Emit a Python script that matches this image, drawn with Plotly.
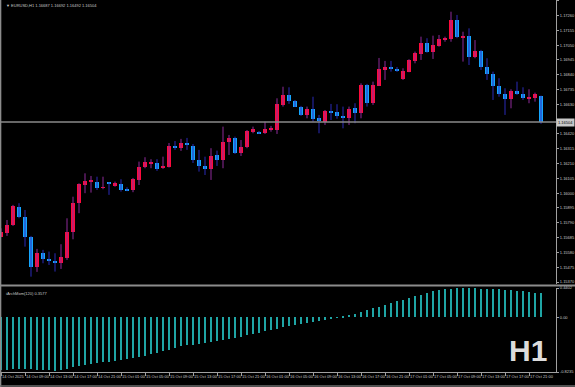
import plotly.graph_objects as go

# ---- data (EURUSD H1, 14 Oct 05:00 .. 17 Oct 23:00) ----
opens = [1.15692, 1.15720, 1.15773, 1.15905, 1.15832, 1.15688, 1.15479, 1.15576, 1.15534, 1.15520,
         1.15508, 1.15539, 1.15725, 1.15933, 1.16061, 1.16085, 1.16082, 1.16039, 1.16073, 1.16053,
         1.16066, 1.16023, 1.16023, 1.16094, 1.16184, 1.16214, 1.16212, 1.16177, 1.16188, 1.16335,
         1.16321, 1.16353, 1.16335, 1.16236, 1.16193, 1.16170, 1.16269, 1.16236, 1.16363, 1.16390,
         1.16283, 1.16326, 1.16436, 1.16427, 1.16425, 1.16452, 1.16448, 1.16626, 1.16697, 1.16654,
         1.16614, 1.16555, 1.16595, 1.16531, 1.16507, 1.16580, 1.16578, 1.16548, 1.16536, 1.16602,
         1.16567, 1.16765, 1.16638, 1.16762, 1.16879, 1.16891, 1.16883, 1.16810, 1.16862, 1.16938,
         1.16985, 1.17067, 1.17004, 1.17046, 1.17091, 1.17094, 1.17228, 1.17106, 1.17115, 1.16968,
         1.17009, 1.16893, 1.16845, 1.16760, 1.16701, 1.16666, 1.16727, 1.16704, 1.16672, 1.16673,
         1.16687]
highs = [1.15751, 1.15810, 1.15917, 1.15929, 1.15881, 1.15697, 1.15605, 1.15598, 1.15586, 1.15574,
         1.15638, 1.15822, 1.15975, 1.16070, 1.16141, 1.16122, 1.16117, 1.16117, 1.16078, 1.16082,
         1.16099, 1.16042, 1.16108, 1.16224, 1.16255, 1.16241, 1.16241, 1.16259, 1.16356, 1.16370,
         1.16385, 1.16392, 1.16349, 1.16307, 1.16259, 1.16319, 1.16302, 1.16472, 1.16413, 1.16401,
         1.16377, 1.16448, 1.16472, 1.16441, 1.16507, 1.16477, 1.16673, 1.16755, 1.16751, 1.16661,
         1.16619, 1.16614, 1.16684, 1.16555, 1.16590, 1.16633, 1.16631, 1.16614, 1.16614, 1.16638,
         1.16779, 1.16775, 1.16791, 1.16959, 1.16938, 1.16938, 1.16895, 1.16886, 1.16950, 1.17004,
         1.17110, 1.17099, 1.17117, 1.17122, 1.17110, 1.17287, 1.17264, 1.17145, 1.17169, 1.17086,
         1.17016, 1.16957, 1.16862, 1.16815, 1.16744, 1.16737, 1.16791, 1.16751, 1.16737, 1.16713,
         1.16692]
lows = [1.15688, 1.15697, 1.15768, 1.15822, 1.15621, 1.15408, 1.15442, 1.15503, 1.15491, 1.15444,
        1.15463, 1.15527, 1.15673, 1.15858, 1.16000, 1.16004, 1.16023, 1.16028, 1.15988, 1.16046,
        1.16011, 1.16014, 1.16007, 1.16058, 1.16177, 1.16177, 1.16158, 1.16172, 1.16182, 1.16307,
        1.16300, 1.16307, 1.16214, 1.16153, 1.16129, 1.16094, 1.16193, 1.16177, 1.16271, 1.16278,
        1.16264, 1.16319, 1.16425, 1.16420, 1.16420, 1.16436, 1.16420, 1.16614, 1.16633, 1.16611,
        1.16548, 1.16531, 1.16507, 1.16425, 1.16484, 1.16519, 1.16528, 1.16460, 1.16484, 1.16496,
        1.16531, 1.16614, 1.16626, 1.16760, 1.16803, 1.16862, 1.16860, 1.16803, 1.16858, 1.16921,
        1.16945, 1.16996, 1.16952, 1.17039, 1.17074, 1.17074, 1.17099, 1.16933, 1.16909, 1.16957,
        1.16874, 1.16803, 1.16661, 1.16684, 1.16555, 1.16602, 1.16697, 1.16661, 1.16638, 1.16649,
        1.16492]
closes = [1.15727, 1.15775, 1.15910, 1.15834, 1.15688, 1.15479, 1.15578, 1.15534, 1.15522, 1.15508,
          1.15546, 1.15727, 1.15933, 1.16066, 1.16085, 1.16087, 1.16039, 1.16042, 1.16070, 1.16073,
          1.16023, 1.16021, 1.16099, 1.16184, 1.16222, 1.16217, 1.16172, 1.16193, 1.16335, 1.16321,
          1.16356, 1.16349, 1.16236, 1.16193, 1.16170, 1.16264, 1.16236, 1.16363, 1.16394, 1.16283,
          1.16326, 1.16441, 1.16453, 1.16424, 1.16456, 1.16456, 1.16631, 1.16697, 1.16654, 1.16614,
          1.16555, 1.16595, 1.16528, 1.16514, 1.16583, 1.16577, 1.16548, 1.16536, 1.16597, 1.16571,
          1.16770, 1.16642, 1.16767, 1.16881, 1.16893, 1.16888, 1.16869, 1.16869, 1.16945, 1.16992,
          1.17067, 1.17004, 1.17051, 1.17094, 1.17094, 1.17228, 1.17106, 1.17115, 1.16968, 1.17009,
          1.16893, 1.16845, 1.16760, 1.16704, 1.16666, 1.16727, 1.16704, 1.16673, 1.16673, 1.16701,
          1.16504]
momentum = [-0.790, -0.788, -0.784, -0.781, -0.779, -0.780, -0.786, -0.792, -0.800, -0.803, -0.798, -0.781,
            -0.750, -0.731, -0.715, -0.705, -0.689, -0.680, -0.670, -0.659, -0.639, -0.629, -0.613,
            -0.598, -0.578, -0.559, -0.537, -0.513, -0.487, -0.461, -0.437, -0.422, -0.411, -0.400,
            -0.390, -0.377, -0.362, -0.348, -0.331, -0.312, -0.293, -0.272, -0.252, -0.231, -0.212,
            -0.191, -0.172, -0.152, -0.133, -0.115, -0.098, -0.082, -0.066, -0.051, -0.036, -0.022, -0.009,
            0.006, 0.031, 0.056, 0.082, 0.108, 0.135, 0.160, 0.186, 0.212, 0.238, 0.263, 0.289, 0.314,
            0.338, 0.362, 0.388, 0.410,
            0.424, 0.431, 0.436, 0.440, 0.440, 0.437, 0.432, 0.428, 0.424, 0.419, 0.412, 0.405, 0.398,
            0.390, 0.381, 0.370, 0.3577]
time_tick_labels = ["14 Oct 2025", "14 Oct 09:00", "14 Oct 13:00", "14 Oct 17:00", "14 Oct 21:00",
                    "15 Oct 01:00", "15 Oct 05:00", "15 Oct 09:00", "15 Oct 13:00", "15 Oct 17:00",
                    "15 Oct 21:00", "16 Oct 01:00", "16 Oct 05:00", "16 Oct 09:00", "16 Oct 13:00",
                    "16 Oct 17:00", "16 Oct 21:00", "17 Oct 01:00", "17 Oct 05:00", "17 Oct 09:00",
                    "17 Oct 13:00", "17 Oct 17:00", "17 Oct 21:00"]
price_ticks = [1.15370, 1.15475, 1.15580, 1.15685, 1.15790, 1.15895, 1.16000, 1.16105, 1.16210,
               1.16315, 1.16420, 1.16630, 1.16735, 1.16840, 1.16945, 1.17050, 1.17155, 1.17260, 1.17365]
mom_ticks = [0.4402, 0.0, -0.8235]
mom_tick_labels = ["0.4402", "0.00", "-0.8235"]
header = "▼ EURUSD,H1 1.16687 1.16692 1.16492 1.16504"
ind_label = "iArchMom(120) 0.3577"

# ---- styles ----
W, H = 575, 387
BULL, BEAR = "#FF0A3C", "#16A6FF"
BULL_WICK, BEAR_WICK = "#8E2A9A", "#2A2AB8"
HIST = "#1FA5A5"
AXC = "#A0A0A0"
TXT = "#C8C8C8"
FONT = "Liberation Sans, Arial, sans-serif"

def py(p):  # pixel row -> paper y
    return 1 - p / H

n = len(closes)
idx = list(range(n))
bull = [c >= o for o, c in zip(opens, closes)]

fig = go.Figure()

# wicks
for flag, col in ((True, BULL_WICK), (False, BEAR_WICK)):
    xs, ys = [], []
    for i in idx:
        if bull[i] == flag:
            xs += [i, i, None]
            ys += [lows[i], highs[i], None]
    fig.add_trace(go.Scatter(x=xs, y=ys, mode="lines", line=dict(color=col, width=1),
                             hoverinfo="skip", showlegend=False, xaxis="x", yaxis="y"))

# bodies
MINB = 0.00006
for flag, col in ((True, BULL), (False, BEAR)):
    xs, bs, hs = [], [], []
    for i in idx:
        if bull[i] == flag:
            lo, hi = min(opens[i], closes[i]), max(opens[i], closes[i])
            h = hi - lo
            if h < MINB:
                mid = (lo + hi) / 2
                lo, h = mid - MINB / 2, MINB
            xs.append(i); bs.append(lo); hs.append(h)
    fig.add_trace(go.Bar(x=xs, y=hs, base=bs, width=0.55, marker=dict(color=col, line=dict(width=0)),
                         showlegend=False, xaxis="x", yaxis="y"))

# momentum histogram
fig.add_trace(go.Bar(x=idx, y=momentum, width=0.2, marker=dict(color=HIST, line=dict(width=0)),
                     showlegend=False, xaxis="x2", yaxis="y2"))

xr = [-1 / 6, 556 / 6 - 1 / 6]
xdom = [0, 556 / W]
tf = dict(size=4, color=TXT, family=FONT)
fig.update_layout(
    width=W, height=H, margin=dict(l=0, r=0, t=0, b=0, pad=0), autosize=False,
    paper_bgcolor="black", plot_bgcolor="black", barmode="overlay", bargap=0,
    font=dict(family=FONT, color=TXT, size=4),
    xaxis=dict(domain=xdom, range=xr, anchor="y", showticklabels=False, showgrid=False,
               zeroline=False, showline=False, ticks="", automargin=False),
    yaxis=dict(domain=[py(284), 1], range=[1.15356, 1.17370], side="right", anchor="x",
               tickvals=price_ticks, ticktext=[f"{v:.5f}" for v in price_ticks],
               ticks="outside", ticklen=2, tickcolor=AXC, showgrid=False, zeroline=False,
               showline=True, linecolor=AXC, linewidth=1, tickfont=tf, automargin=False),
    xaxis2=dict(domain=xdom, range=xr, anchor="y2", tickvals=list(range(0, 89, 4)),
                ticktext=time_tick_labels, ticks="outside", ticklen=3, tickcolor=AXC,
                ticklabelposition="outside right", tickangle=0, showgrid=False, zeroline=False,
                showline=True, linecolor=AXC, linewidth=1, tickfont=tf, automargin=False),
    yaxis2=dict(domain=[py(372), py(288)], range=[-0.8235, 0.4402], side="right", anchor="x2",
                tickvals=mom_ticks, ticktext=mom_tick_labels, ticks="outside", ticklen=2,
                tickcolor=AXC, showgrid=False, zeroline=False, showline=True, linecolor=AXC,
                linewidth=1, tickfont=tf, automargin=False),
)

# current price line + price box
last = closes[-1]
fig.add_shape(type="line", xref="paper", yref="y", x0=0, x1=556 / W, y0=last, y1=last,
              line=dict(color="#8A8A8A", width=1.5))
fig.add_annotation(xref="paper", yref="y", x=1, y=last, xanchor="right", yanchor="middle",
                   text=f"{last:.5f}", showarrow=False, bgcolor="#C8C8C8",
                   font=dict(size=4, color="black", family=FONT), borderpad=1)

# panel separators and borders
fig.add_shape(type="line", xref="paper", yref="paper", x0=0, x1=1, y0=py(285.5), y1=py(285.5),
              line=dict(color="#8C8C8C", width=2))
fig.add_shape(type="line", xref="paper", yref="paper", x0=0.001, x1=0.001, y0=0, y1=1,
              line=dict(color="#8C8C8C", width=1.5))
fig.add_shape(type="line", xref="paper", yref="paper", x0=0, x1=1, y0=py(386), y1=py(386),
              line=dict(color="#6C6C6C", width=1.5))

# texts
fig.add_annotation(xref="paper", yref="paper", x=4 / W, y=py(1), xanchor="left", yanchor="top",
                   text=header, showarrow=False, font=dict(size=4, color=TXT, family=FONT))
fig.add_annotation(xref="paper", yref="paper", x=4 / W, y=py(289), xanchor="left", yanchor="top",
                   text=ind_label, showarrow=False, font=dict(size=4, color=TXT, family=FONT))
fig.add_annotation(xref="paper", yref="paper", x=528 / W, y=py(350), xanchor="center",
                   yanchor="middle", text="<b>H1</b>", showarrow=False,
                   font=dict(size=30, color="#DCDCDC", family=FONT))

fig.write_html("out.html", config={"displayModeBar": False},
               post_script="document.body.style.margin='0';document.body.style.padding='0';"
                           "document.body.style.background='black';")
